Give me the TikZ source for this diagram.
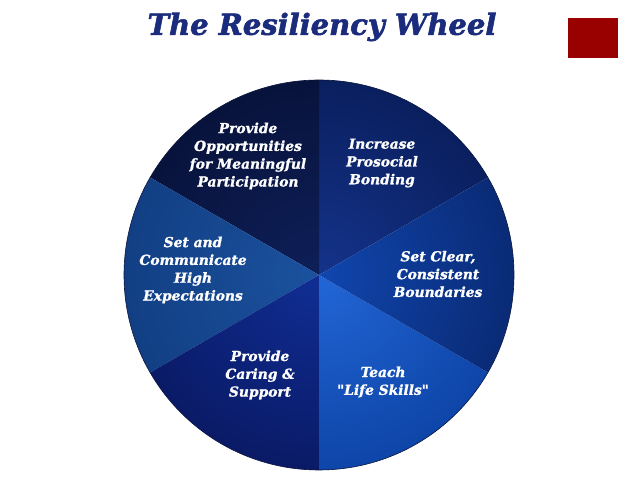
\documentclass[tikz,border=0pt]{standalone}
\usepackage{fontspec}
\newfontfamily\labfont[FakeBold=1.2]{DejaVu Serif Bold Italic}
\newfontfamily\titlefont[FakeBold=2]{DejaVu Serif Bold Italic}
\definecolor{sAi}{HTML}{14338A}\definecolor{sAo}{HTML}{0A1F5E}
\definecolor{sBi}{HTML}{0E1F58}\definecolor{sBo}{HTML}{08133C}
\definecolor{sCi}{HTML}{1B529E}\definecolor{sCo}{HTML}{123F84}
\definecolor{sDi}{HTML}{102E94}\definecolor{sDo}{HTML}{0A1A66}
\definecolor{sEi}{HTML}{2266D6}\definecolor{sEo}{HTML}{0E45A8}
\definecolor{sFi}{HTML}{1046AE}\definecolor{sFo}{HTML}{0A2B76}
\definecolor{titleblue}{HTML}{1B2C7C}
\definecolor{boxred}{HTML}{990000}
\begin{document}
\begin{tikzpicture}[x=1pt,y=1pt,
  lab/.style={text=white, font=\labfont\fontsize{13.8}{17.8}\selectfont, align=center, inner sep=0pt},
  ttl/.style={text=titleblue, font=\titlefont\fontsize{29}{32}\selectfont, inner sep=0pt}]
\useasboundingbox (0,0) rectangle (638,479);
\fill[white] (0,0) rectangle (638,479);
\coordinate (c) at (319,204);
\foreach \a/\b/\ci/\co in {30/90/sAi/sAo, 90/150/sBi/sBo, 150/210/sCi/sCo, 210/270/sDi/sDo, 270/330/sEi/sEo, 330/390/sFi/sFo}{
  \begin{scope}
    \clip (c) -- ++(\a:195) arc[start angle=\a, end angle=\b, radius=195] -- cycle;
    \shade[inner color=\ci, outer color=\co] (c) circle[radius=195];
  \end{scope}
}
\draw[sBo, line width=0.6pt] (c) circle[radius=195];
\fill[boxred] (568,421) rectangle (618,461);
\node[ttl] (title) at (322,452) {The Resiliency Wheel};
\node[lab] (p1) at (248,323) {Provide\\Opportunities\\for Meaningful\\Participation};
\node[lab] (p2) at (382,316) {Increase\\Prosocial\\Bonding};
\node[lab] (p3) at (438,205) {Set Clear,\\Consistent\\Boundaries};
\node[lab] (p4) at (383,97) {Teach\\"Life Skills"};
\node[lab] (p5) at (260,104) {Provide\\Caring \&\\Support};
\node[lab] (p6) at (193,209) {Set and\\Communicate\\High\\Expectations};
\end{tikzpicture}
\end{document}
